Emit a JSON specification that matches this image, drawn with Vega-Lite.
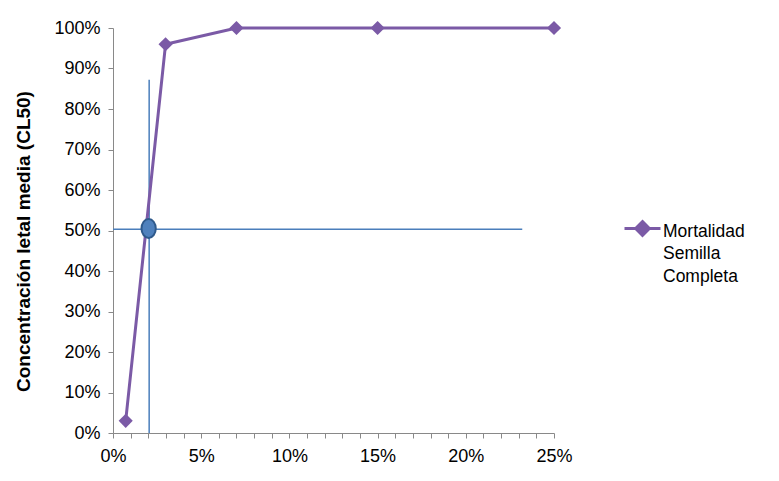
{
  "$schema": "https://vega.github.io/schema/vega-lite/v6.json",
  "autosize": "none",
  "width": 441,
  "height": 405,
  "padding": {"left": 113, "top": 28, "right": 225, "bottom": 48},
  "background": "white",
  "config": {
    "view": {"stroke": null},
    "font": "Liberation Sans",
    "style": {"guide-label": {"lineHeight": 22.5}}
  },
  "datasets": {
    "serie": [
      {"x": 0.0072, "y": 0.03, "serie": "Mortalidad Semilla Completa"},
      {"x": 0.0298, "y": 0.96, "serie": "Mortalidad Semilla Completa"},
      {"x": 0.07, "y": 1.0, "serie": "Mortalidad Semilla Completa"},
      {"x": 0.15, "y": 1.0, "serie": "Mortalidad Semilla Completa"},
      {"x": 0.25, "y": 1.0, "serie": "Mortalidad Semilla Completa"}
    ],
    "vertical": [{"x": 0.0205, "y": 0, "y2": 0.872}],
    "horizontal": [{"x": 0, "x2": 0.232, "y": 0.503}],
    "cl50": [{"x": 0.0202, "y": 0.505}]
  },
  "encoding": {
    "x": {
      "field": "x",
      "type": "quantitative",
      "scale": {"domain": [0, 0.25], "nice": false},
      "axis": {
        "title": null,
        "values": [0,0.01,0.02,0.03,0.04,0.05,0.06,0.07,0.08,0.09,0.1,0.11,0.12,0.13,0.14,0.15,0.16,0.17,0.18,0.19,0.2,0.21,0.22,0.23,0.24,0.25],
        "labelExpr": "round(datum.value*100) % 5 == 0 ? format(datum.value, '.0%') : ''",
        "labelOverlap": false,
        "grid": false,
        "domainColor": "#898989",
        "tickColor": "#898989",
        "tickSize": 5,
        "labelFontSize": 18,
        "labelColor": "#000000",
        "labelPadding": 9,
        "labelFlush": false
      }
    },
    "y": {
      "field": "y",
      "type": "quantitative",
      "scale": {"domain": [0, 1], "nice": false},
      "axis": {
        "title": "Concentración letal media (CL50)",
        "titleFontSize": 19,
        "titleFontWeight": "bold",
        "titleColor": "#000000",
        "titlePadding": 20,
        "titleY": 213,
        "values": [0,0.1,0.2,0.3,0.4,0.5,0.6,0.7,0.8,0.9,1],
        "format": ".0%",
        "labelOverlap": false,
        "grid": false,
        "domainColor": "#898989",
        "tickColor": "#898989",
        "tickSize": 5,
        "labelFontSize": 18,
        "labelColor": "#000000",
        "labelPadding": 8
      }
    }
  },
  "layer": [
    {
      "data": {"name": "vertical"},
      "mark": {"type": "rule", "color": "#4a7ebb", "strokeWidth": 1.5},
      "encoding": {"y2": {"field": "y2"}}
    },
    {
      "data": {"name": "horizontal"},
      "mark": {"type": "rule", "color": "#4a7ebb", "strokeWidth": 1.5},
      "encoding": {"x2": {"field": "x2"}}
    },
    {
      "data": {"name": "serie"},
      "mark": {"type": "line", "strokeWidth": 3, "point": {"shape": "diamond", "size": 200, "filled": true, "opacity": 1}},
      "encoding": {
        "color": {
          "field": "serie",
          "type": "nominal",
          "scale": {"range": ["#7b5aa6"]},
          "legend": {
            "title": null,
            "orient": "none",
            "legendX": 510,
            "legendY": 175,
            "padding": 0,
            "symbolType": "M-1,0.33L1,0.33M0,-0.05L0.38,0.33L0,0.71L-0.38,0.33Z",
            "symbolSize": 1296,
            "symbolStrokeWidth": 3,
            "symbolFillColor": "#7b5aa6",
            "symbolStrokeColor": "#7b5aa6",
            "labelFontSize": 17.5,
            "labelColor": "#000000",
            "labelOffset": 1,
            "labelBaseline": "top",
            "labelLimit": 300,
            "labelExpr": "['Mortalidad', 'Semilla', 'Completa']"
          }
        }
      }
    },
    {
      "data": {"name": "cl50"},
      "mark": {
        "type": "point",
        "shape": "M0,-1A0.75,1 0 1,1 0,1A0.75,1 0 1,1 0,-1Z",
        "size": 361,
        "filled": true,
        "fill": "#4f81bd",
        "stroke": "#2f5a8c",
        "strokeWidth": 2,
        "opacity": 1
      }
    }
  ]
}
